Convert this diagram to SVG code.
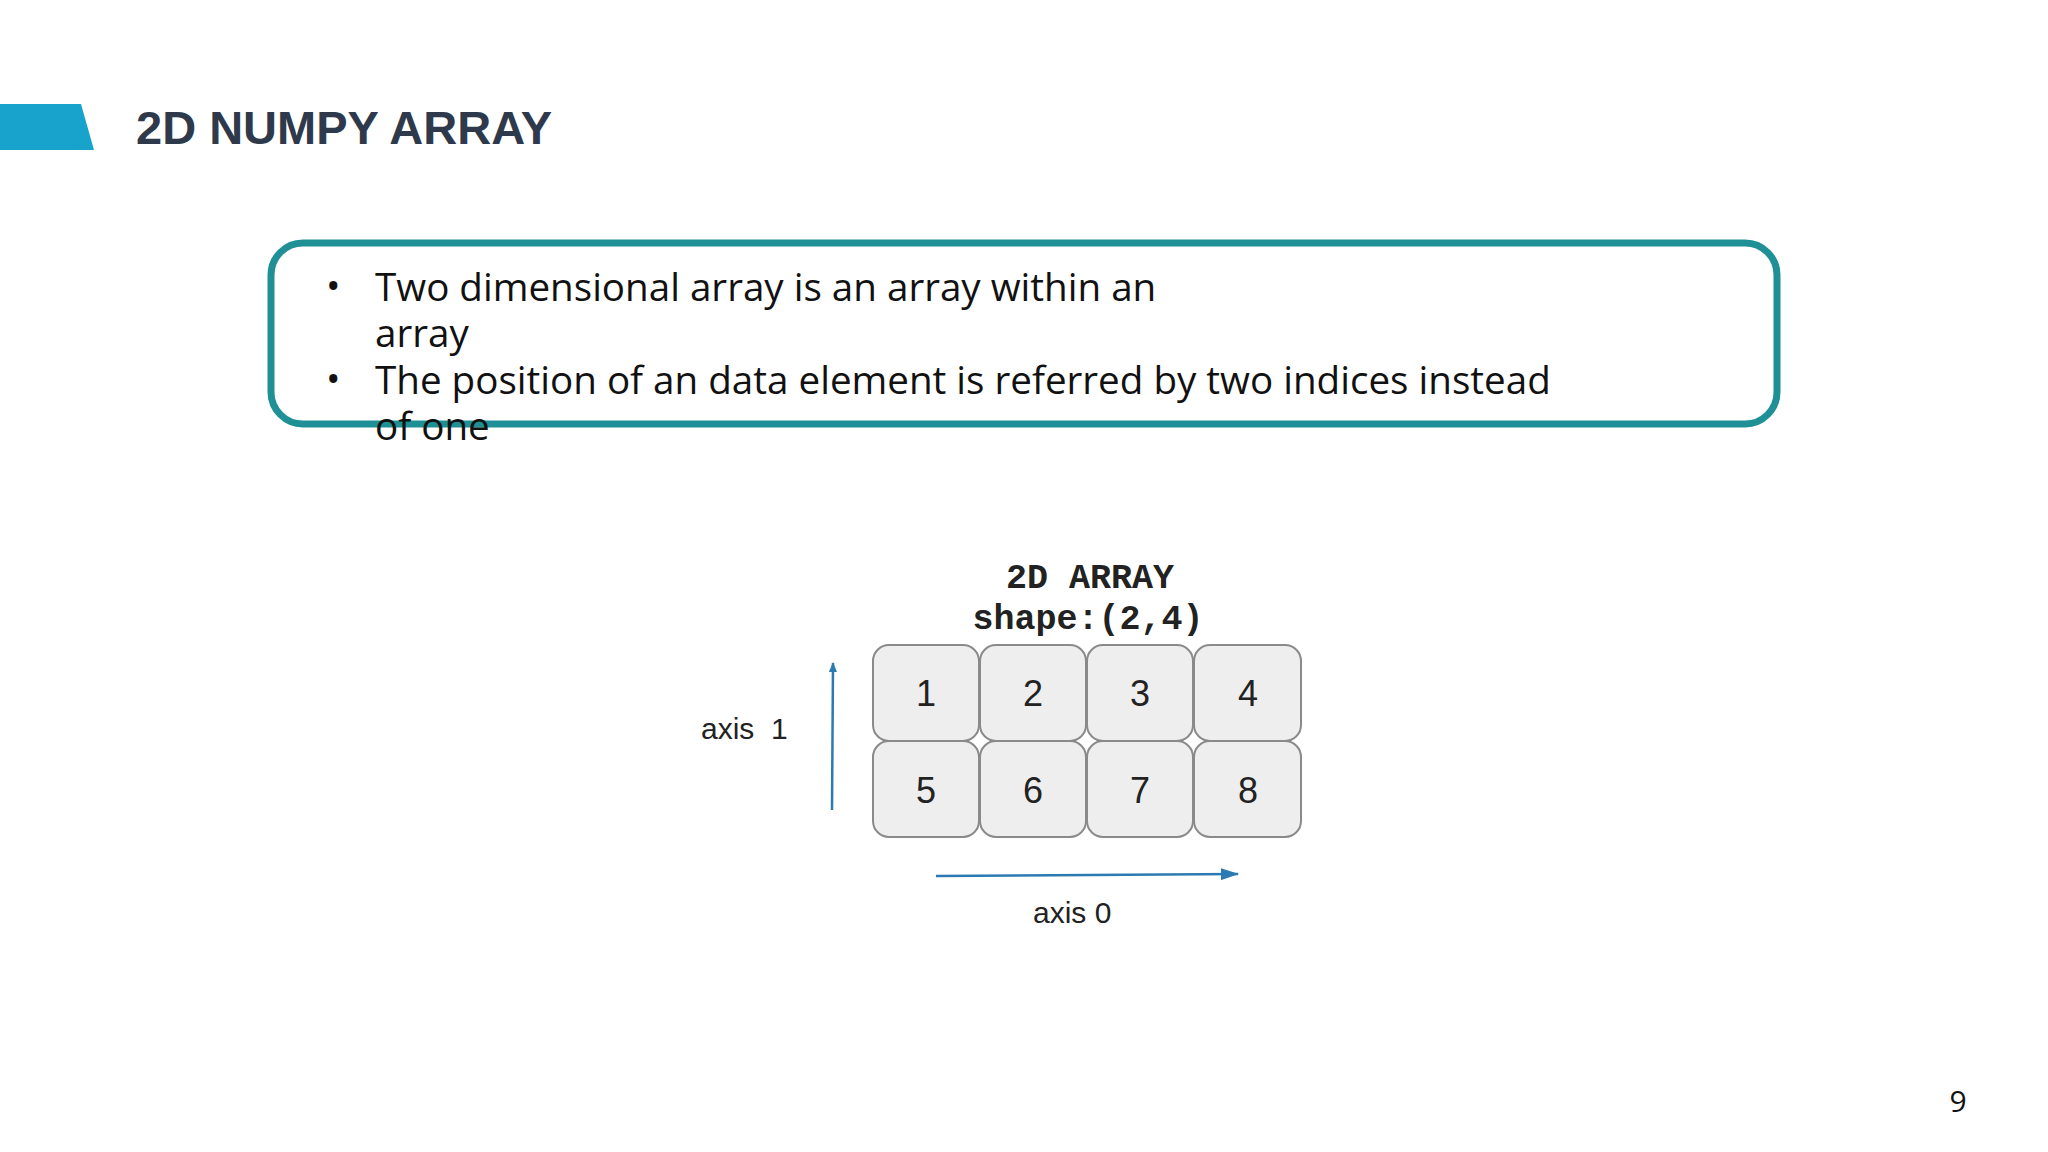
<svg xmlns="http://www.w3.org/2000/svg" width="2048" height="1152" viewBox="0 0 2048 1152">
  <defs>
    <style>
      .title { font-family: "Liberation Sans", Arial, sans-serif; font-weight: bold; font-size: 47px; fill: #2E3A4B; }
      .body { font-family: "Open Sans", "Noto Sans", sans-serif; font-size: 38.6px; fill: #111111; }
      .cell rect { fill: #EEEEEE; stroke: #8A8A8A; stroke-width: 2; }
      .num { font-family: "Liberation Sans", Arial, sans-serif; font-size: 36px; fill: #222222; text-anchor: middle; }
      .mono { font-family: "Liberation Mono", "Courier New", monospace; font-weight: bold; font-size: 35px; fill: #222222; text-anchor: middle; }
      .axis { font-family: "Liberation Sans", Arial, sans-serif; font-size: 30px; fill: #222222; }
      .arrow { stroke: #2B7BB2; stroke-width: 2.5; fill: none; }
    </style>
    <marker id="ah" markerWidth="10" markerHeight="8" refX="9" refY="4" orient="auto" markerUnits="userSpaceOnUse" viewBox="0 0 10 8">
      <path d="M0,0 L10,4 L0,8 Z" fill="#2B7BB2"/>
    </marker>
    <marker id="ahBig" markerWidth="18" markerHeight="12" refX="17" refY="6" orient="auto" markerUnits="userSpaceOnUse" viewBox="0 0 18 12">
      <path d="M0,0 L18,6 L0,12 Z" fill="#2B7BB2"/>
    </marker>
  </defs>
  <rect x="0" y="0" width="2048" height="1152" fill="#FFFFFF"/>

  <g id="header">
    <polygon points="0,104 81,104 94,150 0,150" fill="#18A3CD"/>
    <text class="title" x="136" y="144">2D NUMPY ARRAY</text>
  </g>

  <g id="bullet-box">
    <rect x="271" y="243" width="1506" height="181" rx="32" ry="32" fill="none" stroke="#1F9096" stroke-width="7"/>
    <text class="body"><tspan x="326" y="300">•</tspan><tspan x="375" y="301">Two dimensional array is an array within an</tspan><tspan x="375" y="347">array</tspan><tspan x="326" y="393">•</tspan><tspan x="375" y="394">The position of an data element is referred by two indices instead</tspan><tspan x="375" y="440">of one</tspan></text>
  </g>

  <g id="array-title">
    <text class="mono" x="1090" y="588">2D ARRAY</text>
    <text class="mono" x="1088" y="629">shape:(2,4)</text>
  </g>

  <g id="cell-1" class="cell"><rect x="873" y="645" width="106" height="96" rx="16"/><text class="num" x="926" y="706">1</text></g>
  <g id="cell-2" class="cell"><rect x="980" y="645" width="106" height="96" rx="16"/><text class="num" x="1033" y="706">2</text></g>
  <g id="cell-3" class="cell"><rect x="1087" y="645" width="106" height="96" rx="16"/><text class="num" x="1140" y="706">3</text></g>
  <g id="cell-4" class="cell"><rect x="1194" y="645" width="107" height="96" rx="16"/><text class="num" x="1248" y="706">4</text></g>
  <g id="cell-5" class="cell"><rect x="873" y="741" width="106" height="96" rx="16"/><text class="num" x="926" y="803">5</text></g>
  <g id="cell-6" class="cell"><rect x="980" y="741" width="106" height="96" rx="16"/><text class="num" x="1033" y="803">6</text></g>
  <g id="cell-7" class="cell"><rect x="1087" y="741" width="106" height="96" rx="16"/><text class="num" x="1140" y="803">7</text></g>
  <g id="cell-8" class="cell"><rect x="1194" y="741" width="107" height="96" rx="16"/><text class="num" x="1248" y="803">8</text></g>

  <g id="connectors">
    <line class="arrow" x1="832" y1="810" x2="833" y2="663" marker-end="url(#ah)"/>
    <line class="arrow" x1="936" y1="876" x2="1238" y2="874" marker-end="url(#ahBig)"/>
  </g>

  <g id="axis-labels">
    <text class="axis" x="701" y="739" xml:space="preserve">axis  1</text>
    <text class="axis" x="1033" y="923">axis 0</text>
  </g>

  <g id="page-number">
    <text x="1958" y="1112" font-family="'Open Sans', 'Noto Sans', sans-serif" font-size="30" fill="#111111" text-anchor="middle">9</text>
  </g>
</svg>
